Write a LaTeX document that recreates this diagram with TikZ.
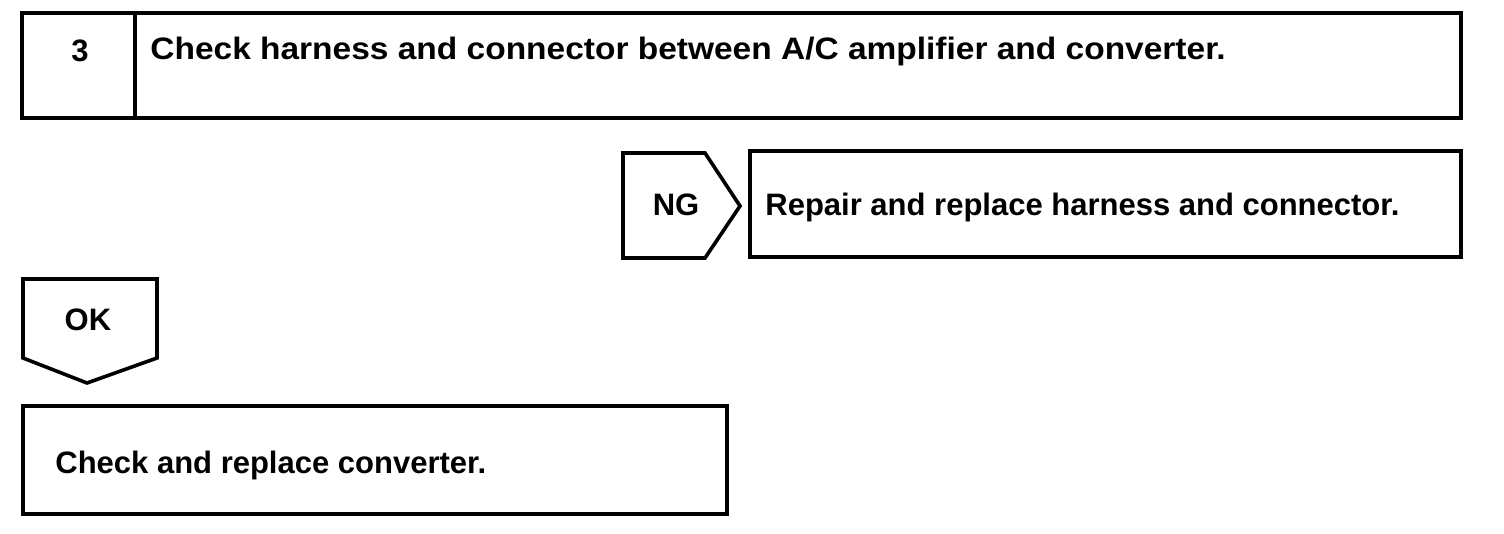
\documentclass[tikz,border=0pt]{standalone}
\usepackage{fontspec}
\setmainfont{Liberation Sans}
\usetikzlibrary{positioning}

\begin{document}
\begin{tikzpicture}[
    x=0.5pt, y=-0.5pt,
    font=\fontsize{15.5}{18}\selectfont\bfseries,
    frame/.style={draw, line width=1.8pt, line join=miter},
    txt/.style={inner sep=0pt, anchor=base west},
    tag/.style={inner sep=0pt, anchor=base},
  ]
  \useasboundingbox (0,0) rectangle (1504,534);
  % step 3
  \draw[frame] (22,13) rectangle (1461,118);
  \draw[frame] (135,13) -- (135,118);
  \node[tag] (num) at (80,62) {3};
  \node[txt, font=\fontsize{15.5}{18}\selectfont\bfseries\addfontfeature{FakeStretch=1.08}] (check) at (150,60)
    {Check harness and connector between A/C amplifier and converter.};
  % NG branch
  \draw[frame] (623,153) -- (705,153) -- (740,206) -- (705,258) -- (623,258) -- cycle;
  \node[tag] (ng) at (676,216) {NG};
  \draw[frame] (750,151) rectangle (1461,257);
  \node[txt] (repair) at (765,216) {Repair and replace harness and connector.};
  % OK branch
  \draw[frame] (23,279) -- (157,279) -- (157,358) -- (87,383) -- (23,358) -- cycle;
  \node[tag] (ok) at (88,330) {OK};
  \draw[frame] (23,406) rectangle (727,514);
  \node[txt] (conv) at (55,473) {Check and replace converter.};
\end{tikzpicture}
\end{document}
